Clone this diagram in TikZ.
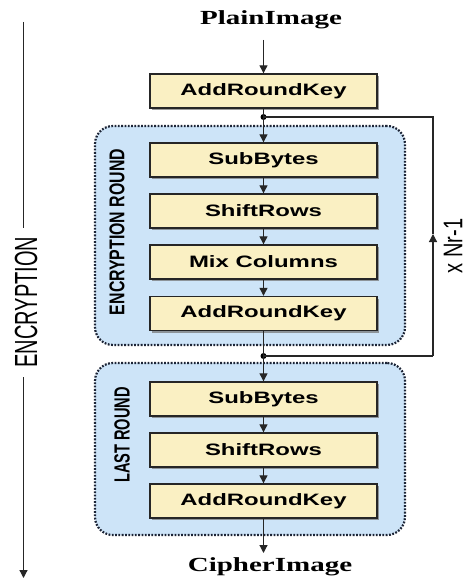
\documentclass[tikz,border=0pt]{standalone}
\usepackage{fontspec}
\usepackage{graphicx}
\setmainfont{Liberation Serif}
\newfontfamily\arialfont{Liberation Sans}
\usetikzlibrary{arrows.meta,shadows}
\definecolor{boxyellow}{HTML}{FAF0C3}
\definecolor{roundblue}{HTML}{CDE4F8}
\definecolor{dotnavy}{HTML}{1C2436}
\definecolor{boxedge}{HTML}{262626}
\tikzset{
  stagebox/.style={draw=boxedge, line width=1.4pt, fill=boxyellow,
    minimum width=227pt, minimum height=34pt, inner sep=0pt,
    font=\arialfont\bfseries\fontsize{16.5}{18}\selectfont,
    drop shadow={shadow xshift=2pt, shadow yshift=-2pt, fill=black!55, opacity=0.7}},
  roundbox/.style={draw=dotnavy, line width=2.2pt, dash pattern=on 1.8pt off 1.5pt,
    fill=roundblue, rounded corners=18pt, inner sep=0pt},
  flow/.style={line width=1.2pt, draw=black!85},
  arr/.style={flow, -{Triangle[length=8pt,width=8pt]}},
  termtext/.style={font=\bfseries\fontsize{20}{22}\selectfont, inner sep=0pt},
  sidetext/.style={rotate=90, inner sep=0pt, font=\arialfont\fontsize{20}{22}\selectfont},
  roundlabel/.style={rotate=90, inner sep=0pt, font=\arialfont\bfseries},
  jdot/.style={circle, fill=black, inner sep=0pt, minimum size=6pt}
}
\newcommand{\hs}[1]{\scalebox{1.45}[1]{#1}}
\begin{document}
\begin{tikzpicture}[x=1pt,y=-1pt]
\useasboundingbox[fill=white] (0,0) rectangle (469,578);
% round containers
\node[roundbox, minimum width=310pt, minimum height=219pt] (encround) at (250,235.5) {};
\node[roundbox, minimum width=310pt, minimum height=172pt] (lastround) at (250,449) {};
% labels of rounds
\node[roundlabel] (enclabel) at (117,232) {\scalebox{1.15}[1.55]{\fontsize{13.8}{15}\selectfont ENCRYPTION ROUND}};
\node[roundlabel] (lastlabel) at (122,435) {\scalebox{1.0}[1.5]{\fontsize{14.6}{16}\selectfont LAST ROUND}};
% terminals
\node[termtext] (plain) at (271,20) {\hs{PlainImage}};
\node[termtext] (cipher) at (270,567) {\hs{CipherImage}};
% boxes
\node[stagebox] (ark0) at (263.5,91) {\hs{AddRoundKey}};
\node[stagebox] (sb1) at (263.5,160) {\hs{SubBytes}};
\node[stagebox] (sr1) at (263.5,211) {\hs{ShiftRows}};
\node[stagebox] (mc) at (263.5,262) {\hs{Mix Columns}};
\node[stagebox] (ark1) at (263.5,313.5) {\hs{AddRoundKey}};
\node[stagebox] (sb2) at (263.5,399) {\hs{SubBytes}};
\node[stagebox] (sr2) at (263.5,450) {\hs{ShiftRows}};
\node[stagebox] (ark2) at (263.5,501) {\hs{AddRoundKey}};
% coordinates
\coordinate (pin) at (263.5,40);
\coordinate (pout) at (263.5,553);
\node[jdot] (j1) at (263.5,117) {};
\node[jdot] (j2) at (263.5,356) {};
\coordinate (r1) at (433,117);
\coordinate (r2) at (433,356);
\coordinate (rmid) at (433,234);
% main flow
\draw[arr] (pin) -- (ark0.north);
\draw[arr] (ark0.south) -- (sb1.north);
\draw[arr] (sb1.south) -- (sr1.north);
\draw[arr] (sr1.south) -- (mc.north);
\draw[arr] (mc.south) -- (ark1.north);
\draw[arr] (ark1.south) -- (sb2.north);
\draw[arr] (sb2.south) -- (sr2.north);
\draw[arr] (sr2.south) -- (ark2.north);
\draw[arr] (ark2.south) -- (pout);
% feedback loop
\draw[flow] (j2.center) -- (r2);
\draw[arr] (r2) -- (rmid);
\draw[flow] (rmid) -- (r1) -- (j1.center);
\node[sidetext] (nr) at (453,246) {\scalebox{1}[1.35]{x Nr-1}};
% encryption side arrow
\coordinate (etop) at (23.5,22);
\coordinate (ebot) at (23.5,578);
\node[sidetext] (enc) at (26,302) {\scalebox{1}[1.6]{ENCRYPTION}};
\draw[flow] (etop) -- (23.5,228);
\draw[arr] (23.5,377) -- (ebot);
\end{tikzpicture}
\end{document}
